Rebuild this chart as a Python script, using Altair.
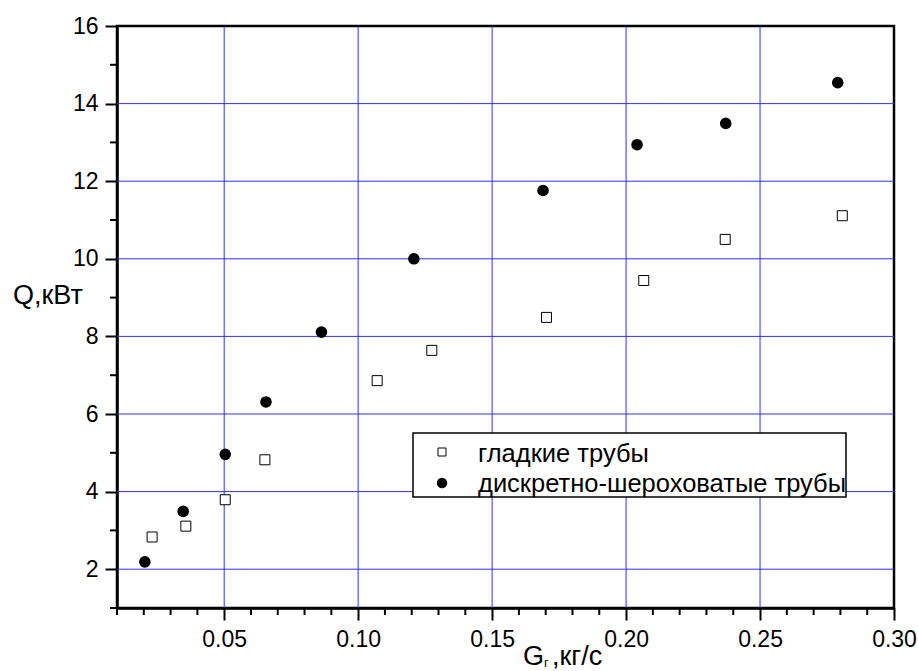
import altair as alt
import pandas as pd

# ---- data ----
series_names = ["гладкие трубы", "дискретно-шероховатые трубы"]
g_smooth = [0.0231, 0.0357, 0.0504, 0.0652, 0.1071, 0.1275, 0.1703, 0.2066, 0.2370, 0.2807]
q_smooth = [2.83, 3.11, 3.79, 4.82, 6.86, 7.64, 8.49, 9.44, 10.50, 11.11]
g_rough = [0.0204, 0.0347, 0.0504, 0.0656, 0.0863, 0.1208, 0.1690, 0.2041, 0.2372, 0.2790]
q_rough = [2.19, 3.49, 4.96, 6.31, 8.11, 10.00, 11.76, 12.94, 13.49, 14.54]

x_major = [0.05, 0.10, 0.15, 0.20, 0.25, 0.30]
x_minor = [0.01, 0.02, 0.03, 0.04, 0.06, 0.07, 0.08, 0.09, 0.11, 0.12, 0.13, 0.14,
           0.16, 0.17, 0.18, 0.19, 0.21, 0.22, 0.23, 0.24, 0.26, 0.27, 0.28, 0.29]
y_major = [2, 4, 6, 8, 10, 12, 14, 16]
y_minor = [1, 3, 5, 7, 9, 11, 13, 15]
x_grid = [0.05, 0.10, 0.15, 0.20, 0.25]
y_grid = [2, 4, 6, 8, 10, 12, 14]

y_title = "Q,кВт"
x_title_main = "G"
x_title_sub = "г"
x_title_rest = ",кг/с"

W, H = 777, 582
FONT = "Liberation Sans"
GRID = "#2f2fff"

xs = alt.Scale(domain=[0.01, 0.30], nice=False, zero=False)
ys = alt.Scale(domain=[1, 16], nice=False, zero=False)

x_axis = alt.Axis(values=x_major, format=".2f", title=None, grid=False,
                  tickSize=12, tickWidth=2,
                  tickColor="black", domainColor="black", domainWidth=2.5,
                  labelFontSize=23, labelFont=FONT, labelColor="black",
                  labelPadding=8, labelFlush=False, labelOverlap=False)
y_axis = alt.Axis(values=y_major, format="d", title=None, grid=False,
                  tickSize=12, tickWidth=2,
                  tickColor="black", domainColor="black", domainWidth=2.5,
                  labelFontSize=23, labelFont=FONT, labelColor="black",
                  labelPadding=7, labelFlush=False, labelOverlap=False)

df_s = pd.DataFrame({"g": g_smooth, "q": q_smooth})
df_r = pd.DataFrame({"g": g_rough, "q": q_rough})

xgrid = alt.Chart(pd.DataFrame({"g": x_grid})).mark_rule(
    color=GRID, strokeWidth=1).encode(
    x=alt.X("g:Q", scale=xs, axis=x_axis), y=alt.value(0), y2=alt.value(H))
ygrid = alt.Chart(pd.DataFrame({"q": y_grid})).mark_rule(
    color=GRID, strokeWidth=1).encode(
    y=alt.Y("q:Q", scale=ys, axis=y_axis), x=alt.value(0), x2=alt.value(W))

smooth = alt.Chart(df_s).mark_square(size=100, fill="white", stroke="black",
                                     strokeWidth=1, opacity=1).encode(
    x=alt.X("g:Q", scale=xs),
    y=alt.Y("q:Q", scale=ys),
)
rough = alt.Chart(df_r).mark_circle(size=135, color="black", opacity=1).encode(
    x=alt.X("g:Q", scale=xs),
    y=alt.Y("q:Q", scale=ys),
)

xminor = alt.Chart(pd.DataFrame({"g": x_minor})).mark_rule(
    color="black", strokeWidth=2).encode(
    x=alt.X("g:Q", scale=xs), y=alt.value(H), y2=alt.value(H + 7))
yminor = alt.Chart(pd.DataFrame({"q": y_minor})).mark_rule(
    color="black", strokeWidth=2).encode(
    y=alt.Y("q:Q", scale=ys), x=alt.value(-7), x2=alt.value(0))

one = pd.DataFrame({"a": [0]})

leg_box = alt.Chart(one).mark_rect(fill="white", stroke="black", strokeWidth=1.5).encode(
    x=alt.value(296), x2=alt.value(729), y=alt.value(407), y2=alt.value(471))
leg_sq = alt.Chart(one).mark_square(size=64, fill="white", stroke="black",
                                    strokeWidth=1, opacity=1).encode(
    x=alt.value(325), y=alt.value(426))
leg_ci = alt.Chart(one).mark_circle(size=110, color="black", opacity=1).encode(
    x=alt.value(325), y=alt.value(457))
leg_t1 = alt.Chart(pd.DataFrame({"t": [series_names[0]]})).mark_text(
    align="left", baseline="alphabetic", fontSize=25.5, font=FONT, color="black").encode(
    x=alt.value(361), y=alt.value(436), text="t:N")
leg_t2 = alt.Chart(pd.DataFrame({"t": [series_names[1]]})).mark_text(
    align="left", baseline="alphabetic", fontSize=25.5, font=FONT, color="black").encode(
    x=alt.value(361), y=alt.value(466), text="t:N")

yt = alt.Chart(pd.DataFrame({"t": [y_title]})).mark_text(
    align="left", baseline="alphabetic", fontSize=27, font=FONT, color="black").encode(
    x=alt.value(-104), y=alt.value(278), text="t:N")
xt1 = alt.Chart(pd.DataFrame({"t": [x_title_main]})).mark_text(
    align="left", baseline="alphabetic", fontSize=27, font=FONT, color="black").encode(
    x=alt.value(406), y=alt.value(639), text="t:N")
xt2 = alt.Chart(pd.DataFrame({"t": [x_title_sub]})).mark_text(
    align="left", baseline="alphabetic", fontSize=13, font=FONT, color="black").encode(
    x=alt.value(427), y=alt.value(641), text="t:N")
xt3 = alt.Chart(pd.DataFrame({"t": [x_title_rest]})).mark_text(
    align="left", baseline="alphabetic", fontSize=27, font=FONT, color="black").encode(
    x=alt.value(435), y=alt.value(639), text="t:N")

chart = alt.layer(
    xgrid, ygrid, smooth, rough, xminor, yminor, leg_box, leg_sq, leg_ci,
    leg_t1, leg_t2, yt, xt1, xt2, xt3
).properties(
    width=W, height=H,
    autosize=alt.AutoSizeParams(type="none"),
    padding={"left": 117, "top": 26, "right": 24, "bottom": 63},
    background="white",
).configure_view(stroke="black", strokeWidth=2.5)

chart.save("out.html", embed_options={"renderer": "svg", "actions": False})
